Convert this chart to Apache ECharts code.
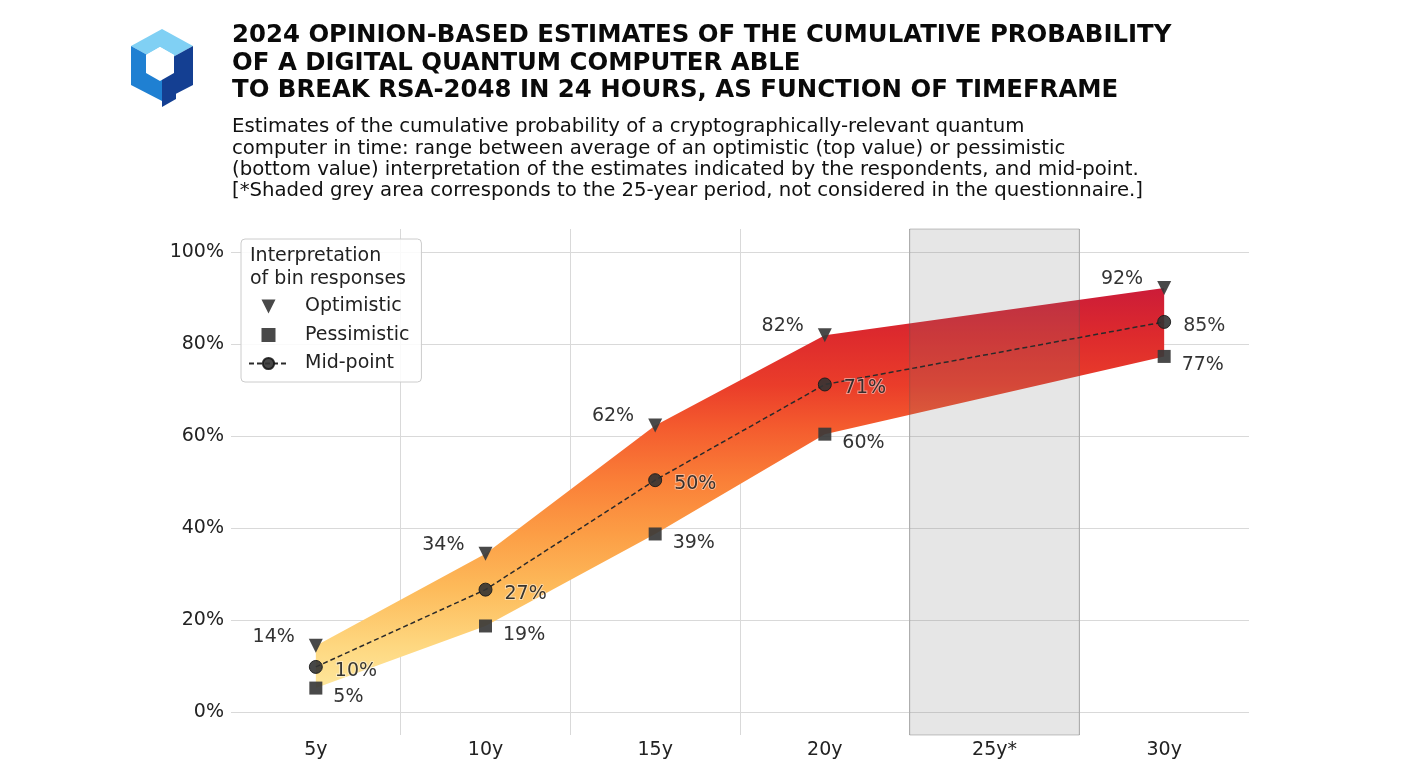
<!DOCTYPE html>
<html>
<head>
<meta charset="utf-8">
<script src="https://cdn.jsdelivr.net/npm/echarts@6/dist/echarts.min.js"></script>
<style>
html,body{margin:0;padding:0;background:#fff;}
#chart{width:1428px;height:783px;}
</style>
</head>
<body>
<div id="chart"></div>
<script>
// ---- data ----
const categories = ['5y', '10y', '15y', '20y', '25y*', '30y'];
const optimistic = [14.4, 34.4, 62.3, 81.9, null, 92.2];
const pessimistic = [5.2, 18.7, 38.7, 60.4, null, 77.3];
const midpoint = [9.8, 26.6, 50.4, 71.2, null, 84.8];
const yTicks = [0, 20, 40, 60, 80, 100];
const shadedCategory = '25y*';
const yMin = -5, yMax = 105;

const titleText = '2024 OPINION-BASED ESTIMATES OF THE CUMULATIVE PROBABILITY\nOF A DIGITAL QUANTUM COMPUTER ABLE\nTO BREAK RSA-2048 IN 24 HOURS, AS FUNCTION OF TIMEFRAME';
const subText = 'Estimates of the cumulative probability of a cryptographically-relevant quantum\ncomputer in time: range between average of an optimistic (top value) or pessimistic\n(bottom value) interpretation of the estimates indicated by the respondents, and mid-point.\n[*Shaded grey area corresponds to the 25-year period, not considered in the questionnaire.]';

// ---- derived ----
const topV = Math.max(...optimistic.filter(v => v != null));
const botV = Math.min(...pessimistic.filter(v => v != null));
const gradStops = [
  [5, '#fee79c'], [15, '#fed67e'], [27, '#fdba5a'], [39, '#fc9d45'], [50, '#fa8038'],
  [62, '#f45b2e'], [71, '#ea3d2a'], [82, '#dd2a2d'], [92, '#cc1c38']
].map(([v, c]) => ({ offset: Math.min(1, Math.max(0, (topV - v) / (topV - botV))), color: c }))
 .sort((a, b) => a.offset - b.offset);

const FONT = 'DejaVu Sans';
const pct = p => Math.round(p.value) + '%';

const chart = echarts.init(document.getElementById('chart'));
chart.setOption({
  animation: false,
  backgroundColor: '#ffffff',
  textStyle: { fontFamily: FONT },
  title: {
    text: titleText,
    subtext: subText,
    left: 232, top: 22, padding: 0, itemGap: 12,
    textStyle: { fontFamily: FONT, fontSize: 24.4, fontWeight: 'bold', color: '#0a0a0a', lineHeight: 27.5 },
    subtextStyle: { fontFamily: FONT, fontSize: 19.7, color: '#111', lineHeight: 21.3 }
  },
  grid: { left: 231, right: 179, top: 229, bottom: 48, containLabel: false },
  legend: {
    left: 241, top: 239,
    orient: 'vertical',
    padding: [58, 12, 9, 7],
    itemWidth: 39, itemHeight: 14, itemGap: 9.5,
    backgroundColor: 'rgba(255,255,255,0.85)',
    borderColor: '#cccccc', borderWidth: 1, borderRadius: 4,
    textStyle: { fontFamily: FONT, fontSize: 19, color: '#222', padding: [0, 0, 0, 12] },
    data: [
      { name: 'Optimistic', icon: 'path://M0,0L10,0L5,10Z' },
      { name: 'Pessimistic', icon: 'path://M0,0L10,0L10,10L0,10Z' },
      { name: 'Mid-point' }
    ]
  },
  graphic: [
    { type: 'text', left: 250, top: 245, z: 100,
      style: { text: 'Interpretation\nof bin responses', font: '19px "DejaVu Sans"', fill: '#222', lineHeight: 23 } },
    { type: 'group', left: 131, top: 29, z: 100, children: [
      { type: 'polygon', shape: { points: [[0,17],[31,0],[62,17],[31,34]] }, style: { fill: '#80d0f4' } },
      { type: 'polygon', shape: { points: [[0,17],[31,34],[31,72],[0,56]] }, style: { fill: '#1f80d2' } },
      { type: 'polygon', shape: { points: [[31,34],[62,17],[62,56],[31,72]] }, style: { fill: '#143f92' } },
      { type: 'polygon', shape: { points: [[29,18],[43,26],[43,44],[29,52],[15,44],[15,26]] }, style: { fill: '#ffffff' } },
      { type: 'polygon', shape: { points: [[15,26],[29,18],[43,26],[29,34]] }, style: { fill: '#ffffff' } },
      { type: 'polygon', shape: { points: [[31,56],[45,48],[45,70],[31,78]] }, style: { fill: '#143f92' } }
    ]}
  ],
  xAxis: {
    type: 'category',
    data: categories,
    boundaryGap: true,
    axisLine: { show: false },
    axisTick: { show: false },
    axisLabel: { fontFamily: FONT, fontSize: 19, color: '#222', margin: 6 },
    splitLine: { show: true, showMinLine: false, showMaxLine: false, lineStyle: { color: '#d9d9d9', width: 1 } }
  },
  yAxis: {
    type: 'value',
    min: yMin, max: yMax,
    axisLine: { show: false },
    axisTick: { show: false, customValues: yTicks },
    axisLabel: { customValues: yTicks, fontFamily: FONT, fontSize: 19, color: '#222', margin: 7, formatter: '{value}%' },
    splitLine: { show: true, lineStyle: { color: '#d9d9d9', width: 1 } }
  },
  series: [
    {
      name: 'band', type: 'custom', z: 1, silent: true,
      data: [[0, 0]],
      renderItem: function (params, api) {
        const upper = [], lower = [];
        categories.forEach((c, i) => {
          if (optimistic[i] != null && pessimistic[i] != null) {
            upper.push(api.coord([i, optimistic[i]]));
            lower.push(api.coord([i, pessimistic[i]]));
          }
        });
        return {
          type: 'polygon',
          shape: { points: upper.concat(lower.reverse()) },
          style: { fill: new echarts.graphic.LinearGradient(0, 0, 0, 1, gradStops) }
        };
      }
    },
    {
      name: 'shade', type: 'custom', z: 2, silent: true,
      data: [[shadedCategory, yMax]],
      encode: { x: 0, y: 1 },
      renderItem: function (params, api) {
        const top = api.coord([api.value(0), yMax]);
        const bot = api.coord([api.value(0), yMin]);
        const w = api.size([1, 0])[0];
        return {
          type: 'rect',
          shape: { x: top[0] - w / 2, y: top[1], width: w, height: bot[1] - top[1] },
          style: { fill: 'rgba(120,120,120,0.19)', stroke: 'rgba(90,90,90,0.35)', lineWidth: 1 }
        };
      }
    },
    {
      name: 'Mid-point', type: 'line', data: midpoint, connectNulls: true, z: 3,
      symbol: 'circle', symbolSize: 13,
      itemStyle: { color: '#333333', opacity: 0.9, borderColor: '#1a1a1a', borderWidth: 1 },
      lineStyle: { color: '#2a2a2a', width: 1.5, type: [5, 3] },
      label: { show: true, position: 'right', distance: 10, offset: [2, 4], formatter: pct,
        fontFamily: FONT, fontSize: 19, color: '#222',
        textBorderColor: 'rgba(255,255,255,0.5)', textBorderWidth: 2 }
    },
    {
      name: 'Optimistic', type: 'line', data: optimistic, z: 4,
      lineStyle: { width: 0, opacity: 0 },
      symbol: 'path://M0,0L10,0L5,10Z', symbolSize: 14, symbolKeepAspect: true,
      itemStyle: { color: '#3a3a3a', opacity: 0.92 },
      label: { show: true, position: 'left', distance: 14, offset: [0, -9], formatter: pct,
        fontFamily: FONT, fontSize: 19, color: '#222' }
    },
    {
      name: 'Pessimistic', type: 'line', data: pessimistic, z: 4,
      lineStyle: { width: 0, opacity: 0 },
      symbol: 'rect', symbolSize: 13,
      itemStyle: { color: '#3a3a3a', opacity: 0.92 },
      label: { show: true, position: 'right', distance: 11, offset: [0, 9], formatter: pct,
        fontFamily: FONT, fontSize: 19, color: '#222' }
    }
  ]
});
</script>
</body>
</html>
